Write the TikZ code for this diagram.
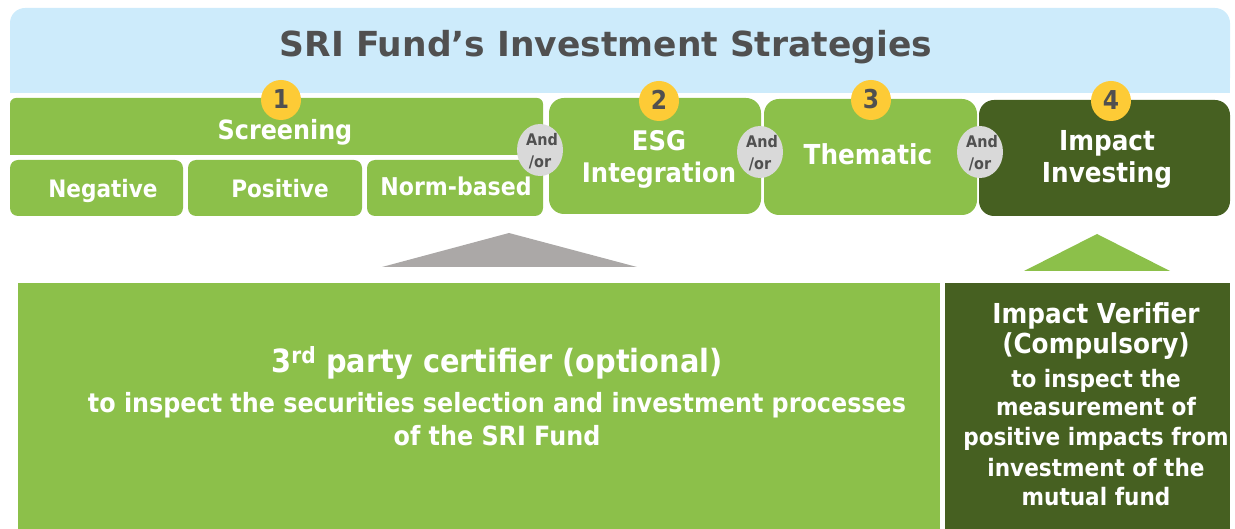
\documentclass[tikz,border=0pt]{standalone}
\usepackage{fontspec}
\setmainfont{DejaVu Sans}[FakeStretch=0.9]
\newfontfamily\titlefont{DejaVu Sans}
\definecolor{lgreen}{HTML}{8CC04A}
\definecolor{dgreen}{HTML}{466021}
\definecolor{skyb}{HTML}{CDEBFB}
\definecolor{gold}{HTML}{FDCB36}
\definecolor{andgray}{HTML}{D9D9D9}
\definecolor{txtgray}{HTML}{505050}
\definecolor{trigray}{HTML}{ABA8A7}
\newcommand{\fs}[1]{\bfseries\fontsize{#1}{#1}\selectfont}
\tikzset{
  wtxt/.style={text=white, anchor=base, inner sep=0pt},
  numc/.style={circle, fill=gold, minimum size=40pt, inner sep=0pt},
  numt/.style={text=txtgray, anchor=base, inner sep=0pt, font=\fs{26}},
  andc/.style={ellipse, fill=andgray, minimum width=46pt, minimum height=52pt, inner sep=0pt},
  andt/.style={text=txtgray, anchor=base, inner sep=0pt, font=\fs{16}},
  subbox/.style={fill=lgreen, rounded corners=8pt},
  bigbox/.style={fill=lgreen, rounded corners=15pt},
}
\usetikzlibrary{shapes.geometric}
\begin{document}
\begin{tikzpicture}[x=1pt,y=-1pt]
\useasboundingbox (0,0) rectangle (1235,529);
% title band
\fill[skyb, rounded corners=15pt] (10,8) rectangle (1230,93);
\fill[skyb] (10,50) rectangle (1230,93);
\node[text=txtgray, anchor=base, inner sep=0pt, font=\titlefont\fs{34.5}] (title) at (606,57) {SRI Fund’s Investment Strategies};
% screening
\fill[lgreen, rounded corners=6pt] (10,98) rectangle (543,155);
\fill[lgreen] (10,125) rectangle (543,155);
\node[wtxt, font=\fs{26.5}] (scr) at (285,140) {Screening};
\fill[subbox] (10,160) rectangle (183,216);
\fill[subbox] (188,160) rectangle (362,216);
\fill[subbox] (367,160) rectangle (543,216);
\node[wtxt, font=\fs{24}] (neg) at (103,198) {Negative};
\node[wtxt, font=\fs{24}] (pos) at (280,198) {Positive};
\node[wtxt, font=\fs{24.5}] (norm) at (456,196) {Norm-based};
% ESG, Thematic, Impact
\fill[bigbox] (549,98) rectangle (761,214);
\node[wtxt, font=\fs{27}] (esg) at (659,151) {ESG};
\node[wtxt, font=\fs{27}] (integ) at (659,183) {Integration};
\fill[bigbox] (764,99) rectangle (977,215);
\node[wtxt, font=\fs{27.5}] (them) at (868,165) {Thematic};
\fill[bigbox, fill=dgreen] (979,100) rectangle (1230,216);
\node[wtxt, font=\fs{27.5}] (imp) at (1107,151) {Impact};
\node[wtxt, font=\fs{27.5}] (inv) at (1107,183) {Investing};
% number circles
\node[numc] (c1) at (281,100) {};
\node[numc] (c2) at (659,101) {};
\node[numc] (c3) at (871,100) {};
\node[numc] (c4) at (1111,101) {};
\node[numt] (n1) at (281,109) {1};
\node[numt] (n2) at (659,110) {2};
\node[numt] (n3) at (871,109) {3};
\node[numt] (n4) at (1111,110) {4};
% and/or
\node[andc] (a1) at (540,150) {};
\node[andc] (a2) at (760,152) {};
\node[andc] (a3) at (980,152) {};
\node[andt] (a1t) at (542,146) {And};
\node[andt] (a1b) at (540,168) {/or};
\node[andt] (a2t) at (762,148) {And};
\node[andt] (a2b) at (760,170) {/or};
\node[andt] (a3t) at (982,148) {And};
\node[andt] (a3b) at (980,170) {/or};
% triangles
\fill[trigray] (382,267) -- (509,233) -- (637,267) -- cycle;
\fill[lgreen] (1024,271) -- (1097,234) -- (1170,271) -- cycle;
% bottom boxes
\fill[lgreen] (18,283) rectangle (940,529);
\fill[dgreen] (945,283) rectangle (1230,529);
\node[wtxt, font=\fs{32}] (cert) at (497,373) {3\textsuperscript{rd} party certifier (optional)};
\node[wtxt, font=\fs{26.5}] (certd1) at (497,413) {to inspect the securities selection and investment processes};
\node[wtxt, font=\fs{26.5}] (certd2) at (497,445) {of the SRI Fund};
\node[wtxt, font=\fs{27.5}] (ver1) at (1096,324) {Impact Verifier};
\node[wtxt, font=\fs{27.5}] (ver2) at (1096,354) {(Compulsory)};
\node[wtxt, font=\fs{24}] (vd1) at (1096,388) {to inspect the};
\node[wtxt, font=\fs{24}] (vd2) at (1096,416) {measurement of};
\node[wtxt, font=\fs{24}] (vd3) at (1096,446) {positive impacts from};
\node[wtxt, font=\fs{24}] (vd4) at (1096,476) {investment of the};
\node[wtxt, font=\fs{24}] (vd5) at (1096,505) {mutual fund};
\end{tikzpicture}
\end{document}
